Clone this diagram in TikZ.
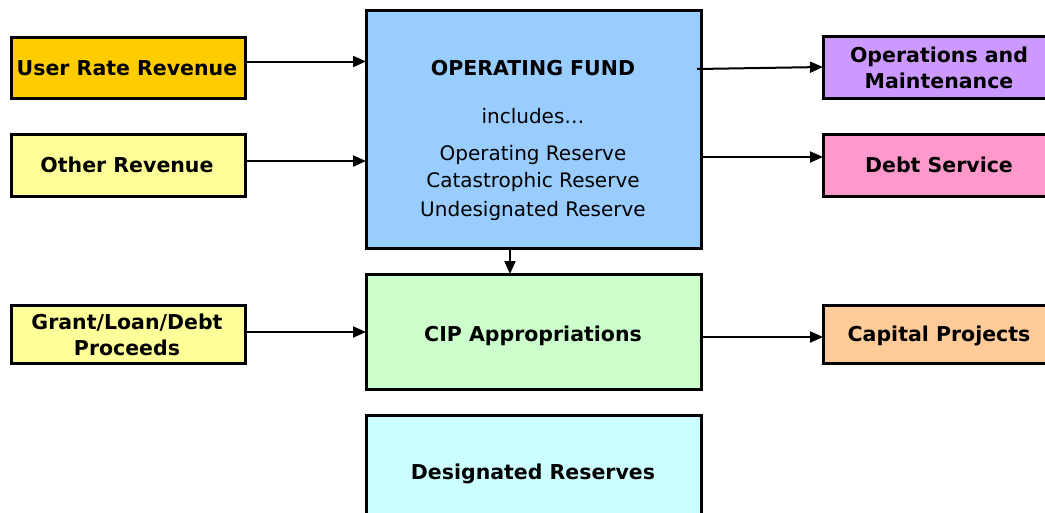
\documentclass[tikz,border=0pt]{standalone}
\usepackage{fontspec}
\setmainfont{DejaVu Sans}
\usetikzlibrary{arrows.meta,calc}
\definecolor{cUser}{HTML}{FFCC00}
\definecolor{cOther}{HTML}{FFFF99}
\definecolor{cFund}{HTML}{99CCFF}
\definecolor{cOM}{HTML}{CC99FF}
\definecolor{cDebt}{HTML}{FF99CC}
\definecolor{cCIP}{HTML}{CCFFCC}
\definecolor{cCap}{HTML}{FFCC99}
\definecolor{cDes}{HTML}{CCFFFF}
\tikzset{
  fundbox/.style={draw=black, line width=3pt, rectangle, inner sep=0pt, outer sep=0pt},
  arr/.style={line width=2pt, -{Triangle[length=13pt,width=11pt]}},
  plain/.style={font=\fontsize{20}{26}\selectfont, inner sep=0pt, anchor=base},
  boldtxt/.style={font=\fontsize{20.5}{26}\selectfont\bfseries, inner sep=0pt, anchor=base}
}
\begin{document}
\begin{tikzpicture}[x=1pt,y=-1pt]
\useasboundingbox (0,0) rectangle (1045,512);
\clip (0,0) rectangle (1045,512);

% sources on the left
\node[fundbox, fill=cUser,  minimum width=234pt, minimum height=61pt] (urr) at (128,67.5) {};
\node[fundbox, fill=cOther, minimum width=234pt, minimum height=62pt] (oth) at (128,165) {};
\node[fundbox, fill=cOther, minimum width=234pt, minimum height=58pt] (glp) at (128,334) {};
\node[boldtxt] (urrT) at (127,75) {User Rate Revenue};
\node[boldtxt] (othT) at (127,172.7) {Other Revenue};
\node[boldtxt] (glpT1) at (127,329.3) {Grant/Loan/Debt};
\node[boldtxt] (glpT2) at (127,355) {Proceeds};

% central funds
\node[fundbox, fill=cFund, minimum width=335pt, minimum height=238pt] (op)  at (533.5,129) {};
\node[fundbox, fill=cCIP,  minimum width=335pt, minimum height=115pt] (cip) at (533.5,331.5) {};
\node[fundbox, fill=cDes,  minimum width=335pt, minimum height=115pt] (des) at (533.5,472.5) {};
\node[boldtxt] (opT)   at (533,75) {OPERATING FUND};
\node[plain]   (opInc) at (533,123.3) {includes…};
\node[plain]   (opR1)  at (533,160) {Operating Reserve};
\node[plain]   (opR2)  at (533,187) {Catastrophic Reserve};
\node[plain]   (opR3)  at (533,216.5) {Undesignated Reserve};
\node[boldtxt] (cipT)  at (533,341.7) {CIP Appropriations};
\node[boldtxt] (desT)  at (533,479) {Designated Reserves};

% uses on the right
\node[fundbox, fill=cOM,   minimum width=232pt, minimum height=62pt] (om)   at (939,67) {};
\node[fundbox, fill=cDebt, minimum width=232pt, minimum height=62pt] (debt) at (939,165) {};
\node[fundbox, fill=cCap,  minimum width=232pt, minimum height=58pt] (cap)  at (939,334) {};
\node[boldtxt] (omT1)  at (939,62.7) {Operations and};
\node[boldtxt] (omT2)  at (939,88.3) {Maintenance};
\node[boldtxt] (debtT) at (939,172.7) {Debt Service};
\node[boldtxt] (capT)  at (939,341.7) {Capital Projects};

% flows into the operating fund and CIP
\draw[arr] ($(urr.east)+(0,-6)$) -- ($(urr.east -| op.west)+(0,-6)$);
\draw[arr] ($(oth.east)+(0,-4)$) -- ($(oth.east -| op.west)+(0,-4)$);
\draw[arr] ($(glp.east)+(0,-2)$) -- ($(glp.east -| cip.west)+(0,-2)$);

% flows out to the uses
\draw[arr] ($(op.east |- om.west)+(-4,2)$) -- (om.west);
\draw[arr] ($(op.east |- debt.west)+(-1,-8)$) -- ($(debt.west)+(0,-8)$);
\draw[arr] ($(cip.east |- cap.west)+(-1,3)$) -- ($(cap.west)+(0,3)$);

% operating fund to CIP
\coordinate (drop) at ($(op.south)+(-23.5,0)$);
\draw[arr] (drop) -- (drop |- cip.north);
\end{tikzpicture}
\end{document}
